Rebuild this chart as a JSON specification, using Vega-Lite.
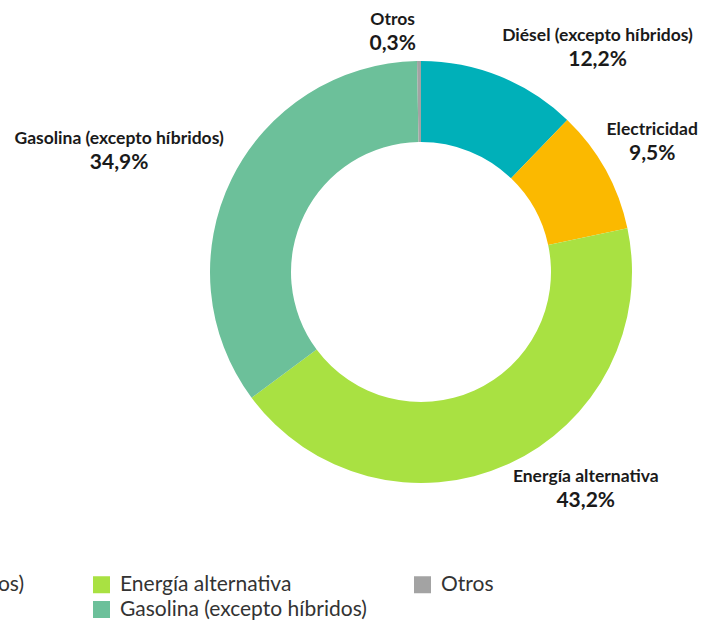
{
  "$schema": "https://vega.github.io/schema/vega-lite/v6.json",
  "width": 420,
  "height": 420,
  "autosize": {"type": "none"},
  "padding": {"left": 211, "top": 62, "right": 74, "bottom": 139},
  "background": "white",
  "config": {"view": {"stroke": null}, "text": {"font": "Lato", "fontWeight": "bold", "color": "#1a1a1a"}},
  "data": {"values": [
    {"categoria": "Diésel (excepto híbridos)", "valor": 12.2, "texto": "12,2%"},
    {"categoria": "Electricidad", "valor": 9.5, "texto": "9,5%"},
    {"categoria": "Energía alternativa", "valor": 43.2, "texto": "43,2%"},
    {"categoria": "Gasolina (excepto híbridos)", "valor": 34.9, "texto": "34,9%"},
    {"categoria": "Otros", "valor": 0.3, "texto": "0,3%"}
  ]},
  "encoding": {
    "theta": {"field": "valor", "type": "quantitative", "stack": true},
    "order": {"field": "categoria", "type": "ordinal", "sort": "ascending"}
  },
  "layer": [
    {
      "mark": {"type": "arc", "innerRadius": 130, "outerRadius": 211},
      "encoding": {
        "color": {
          "field": "categoria", "type": "nominal",
          "scale": {
            "domain": ["Diésel (excepto híbridos)", "Electricidad", "Energía alternativa", "Gasolina (excepto híbridos)", "Otros"],
            "range": ["#00b0b9", "#fbb900", "#a9e142", "#6cc09a", "#a3a3a3"]
          },
          "legend": {
            "title": null, "orient": "none", "legendX": -441, "legendY": 512,
            "columns": 3, "gridAlign": "all", "columnPadding": 45, "rowPadding": 3,
            "symbolType": "square", "symbolSize": 289, "symbolStrokeWidth": 0,
            "labelFont": "Lato", "labelFontSize": 21, "labelColor": "#333333",
            "labelLimit": 400, "labelOffset": 8, "padding": 0
          }
        }
      }
    },
    {"mark": {"type": "text", "radius": 245, "dx": 85, "dy": -9, "fontSize": 17.5},
     "encoding": {"text": {"condition": {"test": "datum.categoria === 'Diésel (excepto híbridos)'", "field": "categoria"}, "value": ""}}},
    {"mark": {"type": "text", "radius": 245, "dx": 85, "dy": 15, "fontSize": 21},
     "encoding": {"text": {"condition": {"test": "datum.categoria === 'Diésel (excepto híbridos)'", "field": "texto"}, "value": ""}}},
    {"mark": {"type": "text", "radius": 245, "dx": 17, "dy": -23, "fontSize": 17.5},
     "encoding": {"text": {"condition": {"test": "datum.categoria === 'Electricidad'", "field": "categoria"}, "value": ""}}},
    {"mark": {"type": "text", "radius": 245, "dx": 17, "dy": 1, "fontSize": 21},
     "encoding": {"text": {"condition": {"test": "datum.categoria === 'Electricidad'", "field": "texto"}, "value": ""}}},
    {"mark": {"type": "text", "radius": 245, "dx": 64, "dy": -18, "fontSize": 17.5},
     "encoding": {"text": {"condition": {"test": "datum.categoria === 'Energía alternativa'", "field": "categoria"}, "value": ""}}},
    {"mark": {"type": "text", "radius": 245, "dx": 64, "dy": 6, "fontSize": 21},
     "encoding": {"text": {"condition": {"test": "datum.categoria === 'Energía alternativa'", "field": "texto"}, "value": ""}}},
    {"mark": {"type": "text", "radius": 245, "dx": -82, "dy": -25, "fontSize": 17.5},
     "encoding": {"text": {"condition": {"test": "datum.categoria === 'Gasolina (excepto híbridos)'", "field": "categoria"}, "value": ""}}},
    {"mark": {"type": "text", "radius": 245, "dx": -82, "dy": -1, "fontSize": 21},
     "encoding": {"text": {"condition": {"test": "datum.categoria === 'Gasolina (excepto híbridos)'", "field": "texto"}, "value": ""}}},
    {"mark": {"type": "text", "radius": 245, "dx": -26, "dy": -7, "fontSize": 17.5},
     "encoding": {"text": {"condition": {"test": "datum.categoria === 'Otros'", "field": "categoria"}, "value": ""}}},
    {"mark": {"type": "text", "radius": 245, "dx": -26, "dy": 17, "fontSize": 21},
     "encoding": {"text": {"condition": {"test": "datum.categoria === 'Otros'", "field": "texto"}, "value": ""}}}
  ]
}
